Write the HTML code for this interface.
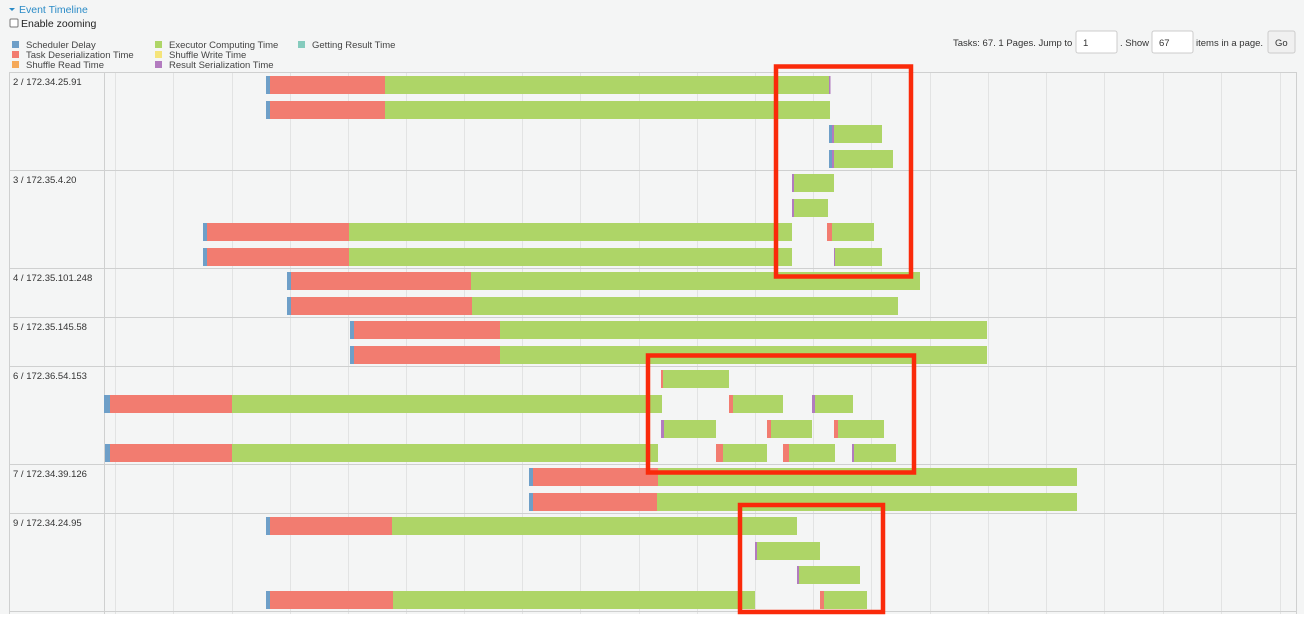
<!DOCTYPE html>
<html><head><meta charset="utf-8"><style>
body{margin:0;background:#fff;font-family:"Liberation Sans",sans-serif;width:1304px;height:620px;overflow:hidden;position:relative}
.t{position:absolute;white-space:nowrap}
</style></head><body>
<svg width="1304" height="620" style="position:absolute;left:0;top:0" font-family="Liberation Sans, sans-serif">
<rect x="0" y="0" width="1304" height="614" fill="#f4f5f5"/>
<rect x="0" y="614" width="1304" height="6" fill="#fff"/>
<text x="19" y="13" font-size="10.5" fill="#2a8bc7">Event Timeline</text>
<path d="M9 8 L15 8 L12 11 Z" fill="#2a8bc7"/>
<rect x="10" y="19" width="8" height="8" rx="1" fill="#fff" stroke="#777"/>
<text x="21" y="27" font-size="10.5" fill="#222">Enable zooming</text>
<g font-size="9.5" fill="#444">
<rect x="12" y="41" width="7" height="7" fill="#6e9fc8"/><text x="26" y="48">Scheduler Delay</text>
<rect x="12" y="51" width="7" height="7" fill="#f27c70"/><text x="26" y="58">Task Deserialization Time</text>
<rect x="12" y="61" width="7" height="7" fill="#f5a95a"/><text x="26" y="68">Shuffle Read Time</text>
<rect x="155" y="41" width="7" height="7" fill="#aed567"/><text x="169" y="48">Executor Computing Time</text>
<rect x="155" y="51" width="7" height="7" fill="#f5e47a"/><text x="169" y="58">Shuffle Write Time</text>
<rect x="155" y="61" width="7" height="7" fill="#b27bbf"/><text x="169" y="68">Result Serialization Time</text>
<rect x="298" y="41" width="7" height="7" fill="#85cbbd"/><text x="312" y="48">Getting Result Time</text>
</g>
<text x="953" y="46" font-size="9.5" fill="#333">Tasks: 67. 1 Pages. Jump to</text>
<rect x="1076" y="31" width="41" height="22" rx="2" fill="#fff" stroke="#ccc"/><text x="1083" y="46" font-size="9.5" fill="#333">1</text>
<text x="1120" y="46" font-size="9.5" fill="#333">. Show</text>
<rect x="1152" y="31" width="41" height="22" rx="2" fill="#fff" stroke="#ccc"/><text x="1159" y="46" font-size="9.5" fill="#333">67</text>
<text x="1196" y="46" font-size="9.5" fill="#333">items in a page.</text>
<rect x="1268" y="31" width="27" height="22" rx="2" fill="#f0f0f0" stroke="#ccc"/><text x="1275" y="46" font-size="9.5" fill="#333">Go</text>
<g stroke="#e2e3e3" stroke-width="1">
<line x1="115.5" y1="72" x2="115.5" y2="614"/><line x1="173.5" y1="72" x2="173.5" y2="614"/><line x1="232.5" y1="72" x2="232.5" y2="614"/><line x1="290.5" y1="72" x2="290.5" y2="614"/><line x1="348.5" y1="72" x2="348.5" y2="614"/><line x1="406.5" y1="72" x2="406.5" y2="614"/><line x1="464.5" y1="72" x2="464.5" y2="614"/><line x1="522.5" y1="72" x2="522.5" y2="614"/><line x1="580.5" y1="72" x2="580.5" y2="614"/><line x1="639.5" y1="72" x2="639.5" y2="614"/><line x1="697.5" y1="72" x2="697.5" y2="614"/><line x1="755.5" y1="72" x2="755.5" y2="614"/><line x1="813.5" y1="72" x2="813.5" y2="614"/><line x1="871.5" y1="72" x2="871.5" y2="614"/><line x1="930.5" y1="72" x2="930.5" y2="614"/><line x1="988.5" y1="72" x2="988.5" y2="614"/><line x1="1046.5" y1="72" x2="1046.5" y2="614"/><line x1="1104.5" y1="72" x2="1104.5" y2="614"/><line x1="1163.5" y1="72" x2="1163.5" y2="614"/><line x1="1221.5" y1="72" x2="1221.5" y2="614"/><line x1="1280.5" y1="72" x2="1280.5" y2="614"/>
</g>
<g stroke="#cfd0d0" stroke-width="1">
<line x1="9" y1="72.5" x2="1296" y2="72.5"/><line x1="9" y1="170.5" x2="1296" y2="170.5"/><line x1="9" y1="268.5" x2="1296" y2="268.5"/><line x1="9" y1="317.5" x2="1296" y2="317.5"/><line x1="9" y1="366.5" x2="1296" y2="366.5"/><line x1="9" y1="464.5" x2="1296" y2="464.5"/><line x1="9" y1="513.5" x2="1296" y2="513.5"/><line x1="9" y1="611.5" x2="1296" y2="611.5"/>
<line x1="9.5" y1="72" x2="9.5" y2="614"/><line x1="104.5" y1="72" x2="104.5" y2="614"/><line x1="1296.5" y1="72" x2="1296.5" y2="614"/>
</g>
<g font-size="9.5" fill="#333">
<text x="13" y="85">2 / 172.34.25.91</text><text x="13" y="183">3 / 172.35.4.20</text><text x="13" y="281">4 / 172.35.101.248</text><text x="13" y="330">5 / 172.35.145.58</text><text x="13" y="379">6 / 172.36.54.153</text><text x="13" y="477">7 / 172.34.39.126</text><text x="13" y="526">9 / 172.34.24.95</text>
</g>
<g id="bars">
<!-- group 2 -->
<rect x="266" y="76" width="4" height="18" fill="#6e9fc8"/><rect x="270" y="76" width="115" height="18" fill="#f27c70"/><rect x="385" y="76" width="444" height="18" fill="#aed567"/><rect x="829" y="76" width="1.5" height="18" fill="#b27bbf"/>
<rect x="266" y="101" width="4" height="18" fill="#6e9fc8"/><rect x="270" y="101" width="115" height="18" fill="#f27c70"/><rect x="385" y="101" width="445" height="18" fill="#aed567"/>
<rect x="829" y="125" width="3" height="18" fill="#6e9fc8"/><rect x="832" y="125" width="2" height="18" fill="#b27bbf"/><rect x="834" y="125" width="48" height="18" fill="#aed567"/>
<rect x="829" y="150" width="3" height="18" fill="#6e9fc8"/><rect x="832" y="150" width="2" height="18" fill="#b27bbf"/><rect x="834" y="150" width="59" height="18" fill="#aed567"/>
<!-- group 3 -->
<rect x="792" y="174" width="2" height="18" fill="#b27bbf"/><rect x="794" y="174" width="40" height="18" fill="#aed567"/>
<rect x="792" y="199" width="2" height="18" fill="#b27bbf"/><rect x="794" y="199" width="34" height="18" fill="#aed567"/>
<rect x="203" y="223" width="4" height="18" fill="#6e9fc8"/><rect x="207" y="223" width="142" height="18" fill="#f27c70"/><rect x="349" y="223" width="443" height="18" fill="#aed567"/>
<rect x="827" y="223" width="5" height="18" fill="#f27c70"/><rect x="832" y="223" width="42" height="18" fill="#aed567"/>
<rect x="203" y="248" width="4" height="18" fill="#6e9fc8"/><rect x="207" y="248" width="142" height="18" fill="#f27c70"/><rect x="349" y="248" width="443" height="18" fill="#aed567"/>
<rect x="834" y="248" width="1.5" height="18" fill="#b27bbf"/><rect x="835" y="248" width="47" height="18" fill="#aed567"/>
<!-- group 4 -->
<rect x="287" y="272" width="4" height="18" fill="#6e9fc8"/><rect x="291" y="272" width="180" height="18" fill="#f27c70"/><rect x="471" y="272" width="449" height="18" fill="#aed567"/>
<rect x="287" y="297" width="4" height="18" fill="#6e9fc8"/><rect x="291" y="297" width="181" height="18" fill="#f27c70"/><rect x="472" y="297" width="426" height="18" fill="#aed567"/>
<!-- group 5 -->
<rect x="350" y="321" width="4" height="18" fill="#6e9fc8"/><rect x="354" y="321" width="146" height="18" fill="#f27c70"/><rect x="500" y="321" width="487" height="18" fill="#aed567"/>
<rect x="350" y="346" width="4" height="18" fill="#6e9fc8"/><rect x="354" y="346" width="146" height="18" fill="#f27c70"/><rect x="500" y="346" width="487" height="18" fill="#aed567"/>
<!-- group 6 -->
<rect x="661" y="370" width="2" height="18" fill="#f27c70"/><rect x="663" y="370" width="66" height="18" fill="#aed567"/>
<rect x="104" y="395" width="6" height="18" fill="#6e9fc8"/><rect x="110" y="395" width="122" height="18" fill="#f27c70"/><rect x="232" y="395" width="430" height="18" fill="#aed567"/>
<rect x="729" y="395" width="4" height="18" fill="#f27c70"/><rect x="733" y="395" width="50" height="18" fill="#aed567"/>
<rect x="812" y="395" width="3" height="18" fill="#b27bbf"/><rect x="815" y="395" width="38" height="18" fill="#aed567"/>
<rect x="661" y="420" width="3" height="18" fill="#b27bbf"/><rect x="664" y="420" width="52" height="18" fill="#aed567"/>
<rect x="767" y="420" width="4" height="18" fill="#f27c70"/><rect x="771" y="420" width="41" height="18" fill="#aed567"/>
<rect x="834" y="420" width="4" height="18" fill="#f27c70"/><rect x="838" y="420" width="46" height="18" fill="#aed567"/>
<rect x="105" y="444" width="5" height="18" fill="#6e9fc8"/><rect x="110" y="444" width="122" height="18" fill="#f27c70"/><rect x="232" y="444" width="426" height="18" fill="#aed567"/>
<rect x="716" y="444" width="7" height="18" fill="#f27c70"/><rect x="723" y="444" width="44" height="18" fill="#aed567"/>
<rect x="783" y="444" width="6" height="18" fill="#f27c70"/><rect x="789" y="444" width="46" height="18" fill="#aed567"/>
<rect x="852" y="444" width="2" height="18" fill="#b27bbf"/><rect x="854" y="444" width="42" height="18" fill="#aed567"/>
<!-- group 7 -->
<rect x="529" y="468" width="4" height="18" fill="#6e9fc8"/><rect x="533" y="468" width="125" height="18" fill="#f27c70"/><rect x="658" y="468" width="419" height="18" fill="#aed567"/>
<rect x="529" y="493" width="4" height="18" fill="#6e9fc8"/><rect x="533" y="493" width="124" height="18" fill="#f27c70"/><rect x="657" y="493" width="420" height="18" fill="#aed567"/>
<!-- group 9 -->
<rect x="266" y="517" width="4" height="18" fill="#6e9fc8"/><rect x="270" y="517" width="122" height="18" fill="#f27c70"/><rect x="392" y="517" width="405" height="18" fill="#aed567"/>
<rect x="755" y="542" width="2" height="18" fill="#b27bbf"/><rect x="757" y="542" width="63" height="18" fill="#aed567"/>
<rect x="797" y="566" width="2" height="18" fill="#b27bbf"/><rect x="799" y="566" width="61" height="18" fill="#aed567"/>
<rect x="266" y="591" width="4" height="18" fill="#6e9fc8"/><rect x="270" y="591" width="123" height="18" fill="#f27c70"/><rect x="393" y="591" width="362" height="18" fill="#aed567"/>
<rect x="820" y="591" width="4" height="18" fill="#f27c70"/><rect x="824" y="591" width="43" height="18" fill="#aed567"/>
</g>
<g fill="none" stroke="#fa2a0a" stroke-width="4.5">
<rect x="776" y="66.5" width="135" height="210"/>
<rect x="648" y="355.5" width="266" height="117"/>
<rect x="740" y="505" width="143" height="107"/>
</g>
</svg>
</body></html>
